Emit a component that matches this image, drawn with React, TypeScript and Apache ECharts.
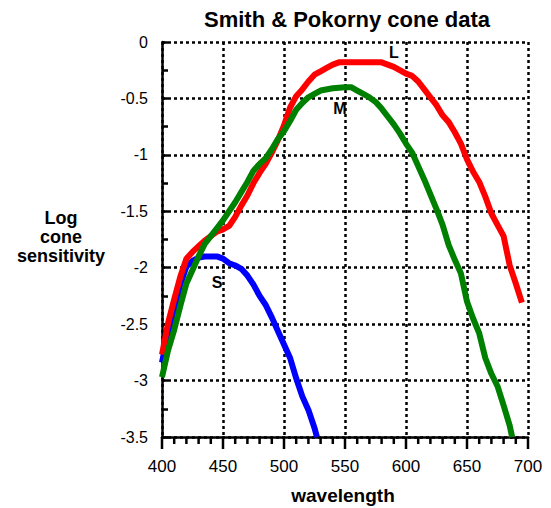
import React, { useEffect, useRef } from "react";
import * as echarts from "echarts";

const wavelengthsL = [400,405,410,415,420,425,430,435,440,445,450,455,460,465,470,475,480,485,490,495,500,505,510,515,520,525,530,535,540,545,550,560,570,580,590,600,605,610,615,620,625,630,635,640,645,650,655,660,665,670,675,680,685,690,695];
const valuesL = [-2.77,-2.49,-2.28,-2.08,-1.92,-1.86,-1.81,-1.76,-1.72,-1.68,-1.66,-1.63,-1.55,-1.45,-1.36,-1.25,-1.16,-1.08,-0.98,-0.87,-0.74,-0.58,-0.48,-0.42,-0.35,-0.29,-0.26,-0.23,-0.2,-0.18,-0.18,-0.18,-0.18,-0.18,-0.22,-0.28,-0.3,-0.35,-0.42,-0.49,-0.56,-0.65,-0.71,-0.8,-0.9,-1.04,-1.15,-1.24,-1.37,-1.52,-1.62,-1.72,-1.98,-2.14,-2.31];

const wavelengthsM = [400,405,410,415,420,425,430,435,440,445,450,455,460,465,470,475,480,485,490,495,500,505,510,515,520,525,530,540,550,555,560,565,570,575,580,585,590,595,600,605,610,615,620,625,630,635,640,645,650,655,660,665,670,675,680,685,687];
const valuesM = [-2.97,-2.73,-2.55,-2.34,-2.14,-2.02,-1.9,-1.79,-1.72,-1.65,-1.58,-1.5,-1.42,-1.33,-1.24,-1.14,-1.08,-1.03,-0.95,-0.86,-0.79,-0.7,-0.6,-0.54,-0.49,-0.46,-0.43,-0.41,-0.4,-0.4,-0.43,-0.46,-0.49,-0.53,-0.59,-0.66,-0.73,-0.81,-0.9,-0.98,-1.1,-1.22,-1.35,-1.48,-1.62,-1.8,-1.93,-2.05,-2.3,-2.45,-2.58,-2.8,-2.94,-3.05,-3.22,-3.4,-3.5];

const wavelengthsS = [400,405,410,415,420,425,430,435,440,445,450,455,460,465,470,475,480,485,490,495,500,505,510,515,520,525,527];
const valuesS = [-2.84,-2.57,-2.38,-2.15,-1.99,-1.94,-1.91,-1.9,-1.9,-1.9,-1.92,-1.96,-1.98,-2.01,-2.07,-2.15,-2.25,-2.33,-2.44,-2.56,-2.68,-2.8,-2.98,-3.14,-3.26,-3.42,-3.5];

const xMajorTicks = [400, 450, 500, 550, 600, 650, 700];
const xMinorTicks = [410,420,430,440,460,470,480,490,510,520,530,540,560,570,580,590,610,620,630,640,660,670,680,690];

const titleText = "Smith & Pokorny cone data";
const xAxisName = "wavelength";
const yAxisName = "Log\ncone\nsensitivity";
const curveLabels = ["L", "M", "S"];

const X_MIN = 400, X_MAX = 700, Y_MIN = -3.5, Y_MAX = 0;

const pairs = (xs: number[], ys: number[]) => xs.map((x, i) => [x, ys[i]]);

export default function App() {
  const ref = useRef<HTMLDivElement>(null);
  useEffect(() => {
    if (!ref.current) return;
    const chart = echarts.init(ref.current, null, { renderer: "svg" });
    const font = "Arial, 'Liberation Sans', Helvetica, sans-serif";
    const dotted = { color: "#000", width: 2.5, type: [3, 3] as any };
    const tickData = [
      ...xMajorTicks.map((v) => [v, Y_MIN, 1]),
      ...xMinorTicks.map((v) => [v, Y_MIN, 0]),
    ];
    chart.setOption({
      animation: false,
      backgroundColor: "#fff",
      title: {
        text: titleText,
        left: 342,
        top: 3,
        textAlign: "center",
        textStyle: { fontFamily: font, fontSize: 22, fontWeight: "bold", color: "#000" },
      },
      grid: { left: 162, right: 23, top: 42, bottom: 71 },
      xAxis: {
        type: "value",
        min: X_MIN,
        max: X_MAX,
        interval: 50,
        axisLine: { show: true, onZero: false, lineStyle: { color: "#000", width: 2.5 } },
        axisTick: { show: false },
        minorTick: { show: false },
        splitLine: { show: true, lineStyle: dotted },
        axisLabel: { color: "#000", fontFamily: font, fontSize: 17, margin: 21 },
      },
      yAxis: {
        type: "value",
        min: Y_MIN,
        max: Y_MAX,
        interval: 0.5,
        axisLine: { show: true, onZero: false, lineStyle: { color: "#000", width: 2.5 } },
        axisTick: { show: true, inside: true, length: 6, lineStyle: { color: "#000", width: 2.5 } },
        minorTick: { show: true, splitNumber: 2, length: 6, lineStyle: { color: "#000", width: 2.5 } },
        splitLine: { show: true, lineStyle: dotted },
        axisLabel: { color: "#000", fontFamily: font, fontSize: 16, margin: 14 },
      },
      graphic: [
        {
          type: "text",
          x: 61,
          y: 208,
          style: {
            text: yAxisName,
            fill: "#000",
            font: `bold 18px ${font}`,
            textAlign: "center",
            textVerticalAlign: "top",
            lineHeight: 19,
          },
        },
        {
          type: "text",
          x: 343,
          y: 486,
          style: { text: xAxisName, fill: "#000", font: `bold 19px ${font}`, textAlign: "center", textVerticalAlign: "top" },
        },
        {
          type: "text",
          x: 394,
          y: 44,
          style: { text: curveLabels[0], fill: "#000", font: `bold 16px ${font}`, textAlign: "center", textVerticalAlign: "top" },
        },
        {
          type: "text",
          x: 340,
          y: 100,
          style: { text: curveLabels[1], fill: "#000", font: `bold 16px ${font}`, textAlign: "center", textVerticalAlign: "top" },
        },
        {
          type: "text",
          x: 217,
          y: 274,
          style: { text: curveLabels[2], fill: "#000", font: `bold 16px ${font}`, textAlign: "center", textVerticalAlign: "top" },
        },
      ],
      series: [
        {
          name: "S",
          type: "line",
          data: pairs(wavelengthsS, valuesS),
          showSymbol: false,
          lineStyle: { color: "#0000ff", width: 6 },
          z: 3,
        },
        {
          name: "L",
          type: "line",
          data: pairs(wavelengthsL, valuesL),
          showSymbol: false,
          lineStyle: { color: "#ff0000", width: 6 },
          z: 4,
        },
        {
          name: "M",
          type: "line",
          data: pairs(wavelengthsM, valuesM),
          showSymbol: false,
          lineStyle: { color: "#008000", width: 6 },
          z: 5,
        },
        {
          name: "xticks",
          type: "custom",
          clip: false,
          silent: true,
          z: 6,
          data: tickData,
          renderItem: (_params: any, api: any) => {
            const p = api.coord([api.value(0), api.value(1)]);
            const len = api.value(2) ? 12 : 7;
            return {
              type: "line",
              shape: { x1: p[0], y1: p[1], x2: p[0], y2: p[1] + len },
              style: { stroke: "#000", lineWidth: 2.5 },
            };
          },
        },
      ],
    });
    return () => chart.dispose();
  }, []);
  return (
    <div
      ref={ref}
      style={{ position: "absolute", left: 0, top: 0, width: 551, height: 508 }}
    />
  );
}
